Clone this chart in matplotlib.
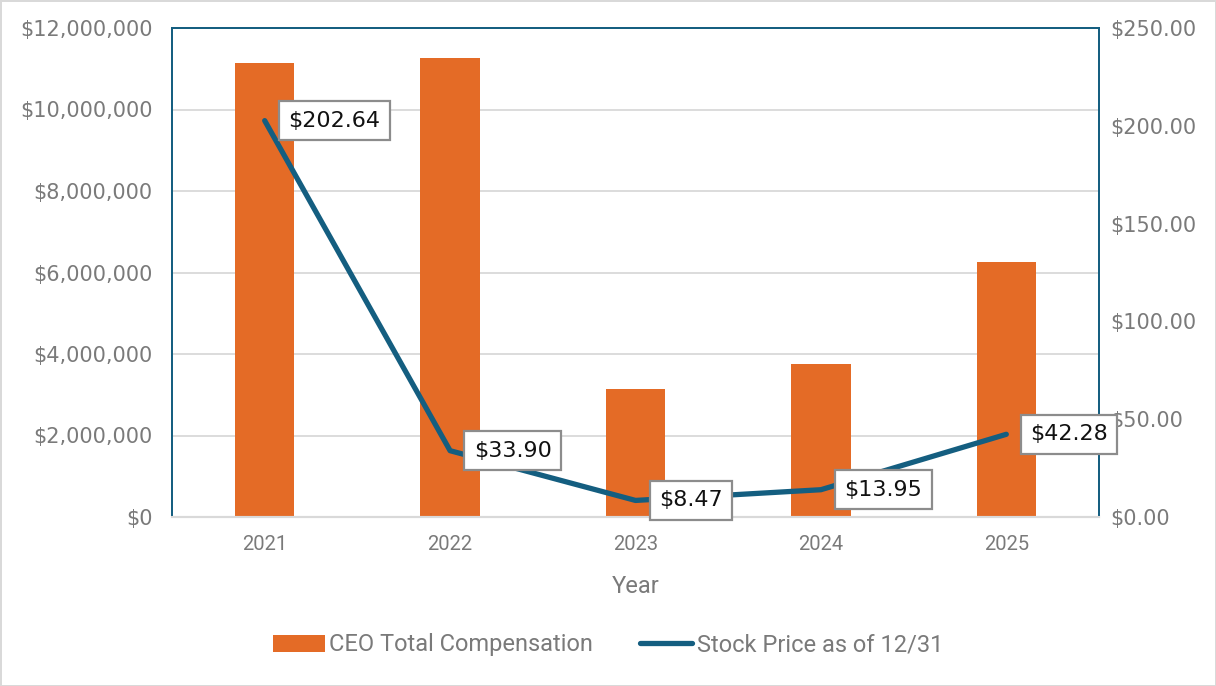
import matplotlib.pyplot as plt
from matplotlib.ticker import FuncFormatter, MultipleLocator
from matplotlib.lines import Line2D
from matplotlib.patches import Patch

years = ['2021', '2022', '2023', '2024', '2025']
ceo_comp = [11150000, 11270000, 3130000, 3760000, 6260000]
stock_price = [202.64, 33.90, 8.47, 13.95, 42.28]

bar_color = '#E46B26'
line_color = '#145E80'
grid_color = '#D9D9D9'
text_color = '#7A7A7A'

plt.rcParams['font.family'] = ['Roboto', 'DejaVu Sans']

fig = plt.figure(figsize=(12.16, 6.86), dpi=100)
fig.patch.set_edgecolor('#D9D9D9')
fig.patch.set_linewidth(2)
ax = fig.add_axes([172 / 1216, 1 - 517 / 686, (1099 - 172) / 1216, (517 - 28) / 686])
ax2 = ax.twinx()

x = list(range(len(years)))
ax.bar(x, ceo_comp, width=0.32, color=bar_color, zorder=2)
ax.set_ylim(0, 12000000)
ax.set_xlim(-0.5, len(years) - 0.5)
ax.yaxis.set_major_locator(MultipleLocator(2000000))
ax.yaxis.set_major_formatter(FuncFormatter(lambda v, p: f'${v:,.0f}'))
ax.grid(axis='y', color=grid_color, linewidth=1.3, zorder=0)
ax.set_axisbelow(True)
ax.set_xticks(x)
ax.set_xticklabels(years, fontsize=14.5)
ax.set_xlabel('Year', fontsize=17, color=text_color, labelpad=15)

ax2.plot(x, stock_price, color=line_color, linewidth=3.8, solid_capstyle='round',
         solid_joinstyle='round', zorder=3)
ax2.set_ylim(0, 250)
ax2.yaxis.set_major_locator(MultipleLocator(50))
ax2.yaxis.set_major_formatter(FuncFormatter(lambda v, p: f'${v:,.2f}'))

# data labels to the right of each point
for xi, val in zip(x, stock_price):
    ax2.annotate(f'${val:.2f}', (xi, val), xytext=(17, 0), textcoords='offset points',
                 ha='left', va='center', fontsize=16, family='DejaVu Sans',
                 color='#111111', zorder=5,
                 bbox=dict(boxstyle='square,pad=0.42', fc='white', ec='#8C8C8C', lw=1.6))

for a in (ax, ax2):
    a.tick_params(axis='both', length=0, labelcolor=text_color)
    a.tick_params(axis='y', labelsize=15)
    for lab in a.get_yticklabels():
        lab.set_family('DejaVu Sans')
    for side in ('left', 'top', 'right'):
        a.spines[side].set_color(line_color)
        a.spines[side].set_linewidth(1.3)
    a.spines['bottom'].set_color(grid_color)
    a.spines['bottom'].set_linewidth(1.5)
ax.tick_params(axis='x', pad=13)
ax.tick_params(axis='y', pad=14)
ax2.tick_params(axis='y', pad=8)

handles = [Patch(facecolor=bar_color, label='CEO Total Compensation'),
           Line2D([0], [0], color=line_color, linewidth=3.8, solid_capstyle='round',
                  label='Stock Price as of 12/31')]
fig.legend(handles=handles, loc='center', bbox_to_anchor=(0.5, 1 - 645 / 686), ncol=2,
           frameon=False, fontsize=17, labelcolor=text_color, handlelength=2.2,
           handletextpad=0.2, columnspacing=2.0)

fig.savefig('out.png', dpi=100)
